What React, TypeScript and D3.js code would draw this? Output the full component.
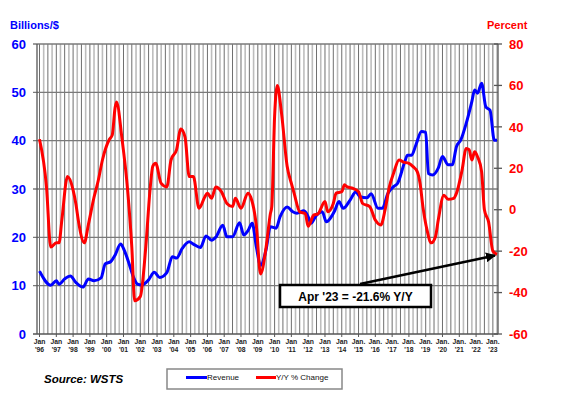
import React from 'react';
import * as d3 from 'd3';

// Monthly semiconductor revenue (3MMA, $B)
const revenueDates = [
  '1996-01', '1996-09', '1997-01', '1997-03', '1997-07', '1997-11', '1998-03', '1998-08', '1998-12',
  '1999-04', '1999-09', '1999-12', '2000-04', '2000-07', '2000-11', '2001-01', '2001-05', '2001-08',
  '2001-11', '2002-02', '2002-07', '2002-11', '2003-03', '2003-08', '2003-12', '2004-03', '2004-07',
  '2004-12', '2005-03', '2005-08', '2005-12', '2006-04', '2006-07', '2006-12', '2007-03', '2007-07',
  '2007-12', '2008-03', '2008-06', '2008-09', '2008-12', '2009-03', '2009-07', '2009-10', '2010-02',
  '2010-05', '2010-10', '2011-02', '2011-05', '2011-10', '2012-01', '2012-03', '2012-07', '2012-11',
  '2013-02', '2013-05', '2013-08', '2013-11', '2014-02', '2014-07', '2014-11', '2015-02', '2015-07',
  '2015-10', '2016-03', '2016-06', '2016-10', '2017-02', '2017-05', '2017-10', '2017-12', '2018-03',
  '2018-06', '2018-10', '2019-01', '2019-03', '2019-06', '2019-10', '2020-01', '2020-05', '2020-08',
  '2020-11', '2021-02', '2021-06', '2021-10', '2021-12', '2022-02', '2022-05', '2022-08', '2022-11',
  '2023-02', '2023-04',
];
const revenueValues = [
  13.0, 10.1, 11.0, 10.3, 11.4, 12.0, 10.7, 9.7, 11.4,
  11.0, 11.6, 14.5, 15.0, 16.3, 18.6, 17.7, 14.6, 11.9,
  10.3, 10.1, 11.2, 12.8, 11.7, 12.7, 16.0, 15.7, 17.7,
  19.1, 18.6, 17.9, 20.3, 19.4, 20.0, 22.5, 20.1, 20.1,
  23.0, 20.5, 21.4, 22.9, 18.0, 14.2, 17.5, 22.2, 21.9,
  24.3, 26.3, 25.3, 25.0, 25.5, 24.3, 22.9, 24.6, 25.3,
  23.2, 24.0, 25.5, 27.4, 26.0, 27.7, 29.4, 28.4, 28.2,
  29.0, 26.0, 26.0, 29.1, 30.5, 31.2, 35.6, 37.0, 37.0,
  39.1, 41.9, 41.7, 33.2, 32.9, 34.3, 36.7, 35.0, 35.0,
  38.8, 40.1, 43.6, 48.1, 50.5, 49.8, 51.9, 47.0, 46.3,
  40.1, 40.1,
];

// Year-over-year % change
const changeDates = [
  '1996-01', '1996-06', '1996-09', '1997-01', '1997-03', '1997-05', '1997-09', '1998-01', '1998-03',
  '1998-05', '1998-09', '1998-12', '1999-04', '1999-07', '1999-10', '2000-03', '2000-05', '2000-07',
  '2000-08', '2000-12', '2001-04', '2001-07', '2001-09', '2002-01', '2002-05', '2002-08', '2002-10',
  '2002-12', '2003-04', '2003-08', '2003-11', '2004-03', '2004-06', '2004-09', '2004-12', '2005-03',
  '2005-07', '2005-11', '2006-01', '2006-04', '2006-07', '2006-11', '2007-03', '2007-07', '2007-09',
  '2008-01', '2008-06', '2008-08', '2008-12', '2009-03', '2009-07', '2009-10', '2009-11', '2010-01',
  '2010-03', '2010-06', '2010-10', '2011-01', '2011-03', '2011-07', '2011-11', '2012-01', '2012-05',
  '2012-08', '2013-01', '2013-03', '2013-07', '2013-09', '2014-01', '2014-03', '2014-05', '2014-09',
  '2015-01', '2015-04', '2015-09', '2016-01', '2016-05', '2016-08', '2016-11', '2017-02', '2017-06',
  '2017-09', '2018-01', '2018-04', '2018-07', '2018-09', '2018-11', '2019-02', '2019-05', '2019-08',
  '2019-10', '2020-02', '2020-05', '2020-09', '2020-11', '2021-03', '2021-06', '2021-08', '2021-10',
  '2021-12', '2022-02', '2022-05', '2022-07', '2022-10', '2023-01', '2023-04',
];
const changeValues = [
  34, 11, -18, -16, -16, -5, 16, 9.5, 3,
  -6, -16, -7, 6, 14, 24, 34, 36, 49,
  52, 34, 9.5, -18, -44, -42, -18, 9.5, 21,
  22.4, 12.7, 11, 24, 29, 39, 35, 16, 16,
  0.7, 6, 8, 5.5, 11, 8.7, 3, 1.5, 5.5,
  0.7, 8, 6, -8, -31, -18, -2, 1.5, 45,
  60, 46.5, 21, 12.7, 8, -1, -2, -8, -2.6,
  -2, 4, -1, 3, 8, 8.7, 12, 11, 10.3,
  8.7, 3, 1.5, -5, -7.4, 0, 11, 17.6, 24,
  23, 22.4, 20.8, 18.4, 12.7, 1.5, -10, -16, -13,
  -5, 7, 5, 5.5, 8, 19, 29.6, 29, 24,
  28, 25.6, 18.4, 0, -6, -20, -21.6,
];

const leftTicks = [0, 10, 20, 30, 40, 50, 60];
const rightTicks = [-60, -40, -20, 0, 20, 40, 60, 80];
const years = [
  1996, 1997, 1998, 1999, 2000, 2001, 2002, 2003, 2004, 2005, 2006, 2007, 2008, 2009,
  2010, 2011, 2012, 2013, 2014, 2015, 2016, 2017, 2018, 2019, 2020, 2021, 2022, 2023,
];

const font = '"Liberation Sans", Arial, sans-serif';

export default function App() {
  const W = 566, H = 396;
  const left = 37, right = 498, top = 44, bottom = 334;
  const parse = d3.timeParse('%Y-%m');

  const x = d3.scaleTime()
    .domain([new Date(1996, 0, 1), new Date(2023, 3, 1)])
    .range([39.5, 497]);
  const yL = d3.scaleLinear().domain([0, 60]).range([bottom, top]);
  const yR = d3.scaleLinear().domain([-60, 80]).range([bottom, top]);

  const quarters = d3.timeMonth.every(3)!.range(new Date(1996, 0, 1), new Date(2023, 4, 1));

  const revLine = d3.line<number>()
    .x((d, i) => x(parse(revenueDates[i])!))
    .y(d => yL(d))
    .curve(d3.curveMonotoneX);
  const chgLine = d3.line<number>()
    .x((d, i) => x(parse(changeDates[i])!))
    .y(d => yR(d))
    .curve(d3.curveMonotoneX);

  // end point of the annotation arrow: last Y/Y value
  const lastX = x(parse(changeDates[changeDates.length - 1])!);
  const lastY = yR(changeValues[changeValues.length - 1]);

  return (
    <svg width={W} height={H} style={{ position: 'absolute', left: 0, top: 0, background: '#fff' }}
      fontFamily={font}>
      <defs>
        <marker id="arrow" viewBox="0 0 10 10" refX="9" refY="5" markerWidth="4" markerHeight="4"
          orient="auto-start-reverse">
          <path d="M0,0 L10,5 L0,10 z" fill="#000" />
        </marker>
      </defs>

      {/* quarterly vertical grid */}
      {quarters.map((q, i) => (
        <line key={'v' + i} x1={x(q)} x2={x(q)} y1={top} y2={bottom}
          stroke={i % 2 === 0 ? '#6e6e6e' : '#bdbdbd'} strokeWidth={i % 2 === 0 ? 1 : 1.6} />
      ))}

      {/* horizontal grid on left axis */}
      {leftTicks.map(t => (
        <line key={'h' + t} x1={left - 4} x2={right} y1={yL(t)} y2={yL(t)}
          stroke={t === 0 ? '#555' : '#7a7a7a'} strokeWidth={1.3} />
      ))}

      {/* axes frame */}
      <line x1={left} x2={left} y1={top} y2={bottom} stroke="#555" strokeWidth={1.3} />
      <line x1={right} x2={right} y1={top} y2={bottom} stroke="#555" strokeWidth={1.3} />
      {rightTicks.map(t => (
        <line key={'rt' + t} x1={right - 4} x2={right + 4} y1={yR(t)} y2={yR(t)} stroke="#555" strokeWidth={1.3} />
      ))}
      {years.map(yr => (
        <line key={'xt' + yr} x1={x(new Date(yr, 0, 1))} x2={x(new Date(yr, 0, 1))}
          y1={bottom} y2={bottom + 3} stroke="#555" strokeWidth={1} />
      ))}

      {/* left axis labels */}
      {leftTicks.map(t => (
        <text key={'lt' + t} x={26} y={yL(t)} dy="0.36em" textAnchor="end"
          fontSize={13} fontWeight="bold" fill="#0000ff">{t}</text>
      ))}
      <text x={10} y={29} fontSize={11} fontWeight="bold" fill="#0000ff">Billions/$</text>

      {/* right axis labels */}
      {rightTicks.map(t => (
        <text key={'rl' + t} x={509} y={yR(t)} dy="0.36em" textAnchor="start"
          fontSize={13} fontWeight="bold" fill="#ff0000">{t}</text>
      ))}
      <text x={487} y={29} fontSize={11} fontWeight="bold" fill="#ff0000">Percent</text>

      {/* x axis labels */}
      {years.map(yr => {
        const cx = x(new Date(yr, 0, 1));
        return (
          <g key={'xl' + yr} fontSize={6.8} fontWeight="bold" fill="#222" textAnchor="middle">
            <text x={cx} y={344}>{yr >= 2015 ? 'Jan.' : 'Jan'}</text>
            <text x={cx} y={352}>{"'" + String(yr).slice(2)}</text>
          </g>
        );
      })}

      {/* series */}
      <path d={revLine(revenueValues)!} fill="none" stroke="#0000ff" strokeWidth={3} strokeLinejoin="round" />
      <path d={chgLine(changeValues)!} fill="none" stroke="#ff0000" strokeWidth={3} strokeLinejoin="round" />

      {/* annotation */}
      <line x1={360} y1={284} x2={lastX - 2} y2={lastY + 1} stroke="#000" strokeWidth={2.5}
        markerEnd="url(#arrow)" />
      <rect x={280} y={285} width={151} height={22} fill="#fff" stroke="#000" strokeWidth={2.5} />
      <text x={355.5} y={296.5} dy="0.36em" textAnchor="middle" fontSize={12} fontWeight="bold" fill="#000">
        Apr '23 = -21.6% Y/Y
      </text>

      {/* source */}
      <text x={44} y={383} fontSize={11.5} fontWeight="bold" fontStyle="italic" fill="#000">Source: WSTS</text>

      {/* legend */}
      <rect x={167} y={369} width={175} height={20} fill="#fff" stroke="#888" strokeWidth={1.5} />
      <line x1={186} x2={207} y1={377.5} y2={377.5} stroke="#0000ff" strokeWidth={3} />
      <text x={207} y={377.5} dy="0.35em" fontSize={8} fill="#111">Revenue</text>
      <line x1={256} x2={276} y1={377.5} y2={377.5} stroke="#ff0000" strokeWidth={3} />
      <text x={276} y={377.5} dy="0.35em" fontSize={8} fill="#111">Y/Y % Change</text>
    </svg>
  );
}
